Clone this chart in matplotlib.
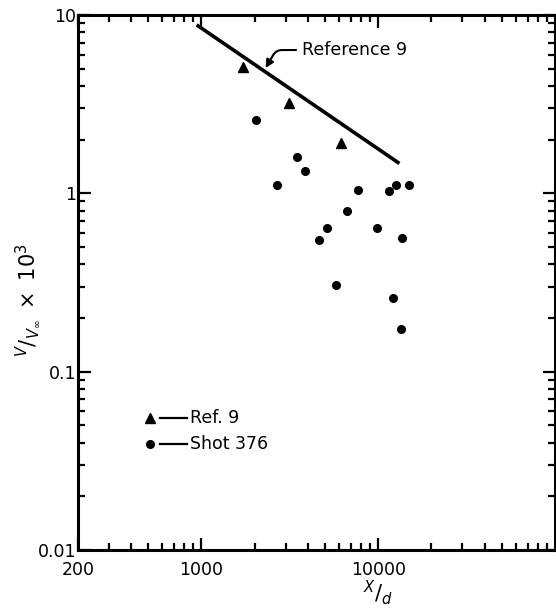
import numpy as np
import matplotlib
matplotlib.use("Agg")
import matplotlib.pyplot as plt
from matplotlib.ticker import LogLocator, NullFormatter, FixedLocator, FixedFormatter

# Reference 9 correlation line (end points)
ref_line_x = [940, 13200]
ref_line_y = [8.8, 1.47]

# Ref. 9 data (triangles)
ref9_x = [1710, 3150, 6180]
ref9_y = [5.1, 3.2, 1.91]

# Shot 376 data (circles)
shot_x = [2030, 2690, 3470, 3870, 7670, 11580, 12700, 14900, 6680, 5150,
          4620, 9870, 13600, 5740, 12200, 13500]
shot_y = [2.59, 1.12, 1.60, 1.33, 1.05, 1.03, 1.12, 1.12, 0.80, 0.64,
          0.55, 0.64, 0.56, 0.307, 0.258, 0.174]

x_ticks = [200, 1000, 10000]
x_ticklabels = ["200", "1000", "10000"]
y_ticks = [0.01, 0.1, 1, 10]
y_ticklabels = ["0.01", "0.1", "1", "10"]

plt.rcParams['font.family'] = ['DejaVu Sans']
plt.rcParams['mathtext.fontset'] = 'dejavusans'

fig = plt.figure(figsize=(5.56, 6.09), dpi=100)
ax = fig.add_axes([0.140, 0.0969, 0.858, 0.8785])

ax.plot(ref_line_x, ref_line_y, color='black', lw=2.6, solid_capstyle='butt')
ax.plot(ref9_x, ref9_y, linestyle='none', marker='^', color='black', markersize=7)
ax.plot(shot_x, shot_y, linestyle='none', marker='o', color='black', markersize=5.5)

ax.set_xscale('log')
ax.set_yscale('log')
ax.set_xlim(200, 100000)
ax.set_ylim(0.01, 10)

ax.xaxis.set_major_locator(FixedLocator(x_ticks))
ax.xaxis.set_major_formatter(FixedFormatter(x_ticklabels))
ax.xaxis.set_minor_locator(LogLocator(base=10, subs=np.arange(2, 10), numticks=20))
ax.xaxis.set_minor_formatter(NullFormatter())
ax.yaxis.set_major_locator(FixedLocator(y_ticks))
ax.yaxis.set_major_formatter(FixedFormatter(y_ticklabels))
ax.yaxis.set_minor_locator(LogLocator(base=10, subs=np.arange(2, 10), numticks=20))
ax.yaxis.set_minor_formatter(NullFormatter())

ax.tick_params(which='both', direction='in', top=True, right=True, width=1.6,
               labelsize=12.5)
ax.tick_params(which='major', length=9)
ax.tick_params(which='minor', length=5)
ax.tick_params(axis='y', pad=1)
ax.tick_params(axis='x', pad=8)
for s in ax.spines.values():
    s.set_linewidth(2.2)

# annotation for the line
ax.annotate("Reference 9", xy=(2310, 5.04), xytext=(3690, 6.36),
            fontsize=12.5, va='center', ha='left',
            arrowprops=dict(arrowstyle='-|>', color='black', lw=1.5,
                            mutation_scale=12, shrinkA=2, shrinkB=0,
                            connectionstyle="angle,angleA=180,angleB=60,rad=6"))

# legend-like key
ax.plot([0.152], [0.247], transform=ax.transAxes, marker='^', color='black', markersize=7, clip_on=False)
ax.plot([0.152], [0.198], transform=ax.transAxes, marker='o', color='black', markersize=5.5, clip_on=False)
ax.plot([0.172, 0.229], [0.247, 0.247], transform=ax.transAxes, color='black', lw=1.6)
ax.plot([0.172, 0.229], [0.198, 0.198], transform=ax.transAxes, color='black', lw=1.6)
ax.text(0.235, 0.247, "Ref. 9", transform=ax.transAxes, fontsize=12.5, va='center', ha='left')
ax.text(0.235, 0.198, "Shot 376", transform=ax.transAxes, fontsize=12.5, va='center', ha='left')

# axis labels
fig.text(378/556, 1 - 607/609, r'$^{X}/_{d}$', fontsize=15, ha='center', va='bottom')
fig.text(28/556, 1 - 300/609, r'$^{V}/_{V_{\infty}}\ \times\ 10^{3}$', fontsize=15,
         rotation=90, ha='center', va='center')

fig.savefig("out.png", dpi=100)
